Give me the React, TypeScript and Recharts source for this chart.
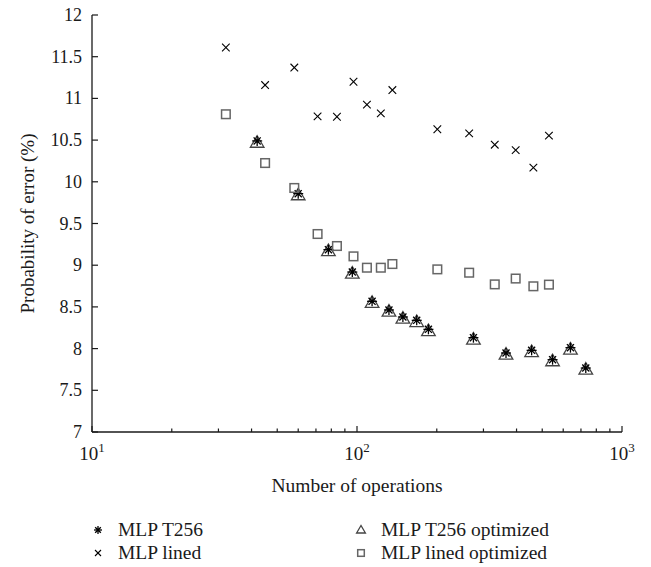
import { ScatterChart, Scatter, XAxis, YAxis } from 'recharts';

// (x = number of operations, y = probability of error %)
const t256Ops = [42, 60, 78, 96, 114, 132, 149, 168, 186, 275, 365, 456, 547, 639, 730];
const t256Err = [10.49, 9.858, 9.186, 8.918, 8.567, 8.463, 8.379, 8.339, 8.231, 8.131, 7.947, 7.979, 7.867, 8.011, 7.767];
const t256OptErr = [10.47, 9.84, 9.17, 8.9, 8.55, 8.445, 8.36, 8.32, 8.21, 8.11, 7.93, 7.96, 7.85, 7.99, 7.75];

const linedOps = [32, 45, 58, 71, 84, 97, 109, 123, 136, 201, 265, 331, 397, 463, 530];
const linedErr = [11.61, 11.16, 11.37, 10.785, 10.78, 11.2, 10.925, 10.82, 11.1, 10.63, 10.58, 10.445, 10.38, 10.17, 10.553];
const linedOptErr = [10.81, 10.225, 9.926, 9.374, 9.23, 9.106, 8.97, 8.97, 9.014, 8.95, 8.91, 8.77, 8.84, 8.747, 8.767];

const xTicks = [10, 20, 30, 40, 50, 60, 70, 80, 90, 100, 200, 300, 400, 500, 600, 700, 800, 900, 1000];
const yTicks = [7, 7.5, 8, 8.5, 9, 9.5, 10, 10.5, 11, 11.5, 12];

const FONT = '"Liberation Serif", "Times New Roman", serif';
const INK = '#1a1a1a';

const toPoints = (xs: number[], ys: number[]) => xs.map((x, i) => ({ x, y: ys[i] }));

const isMajor = (v: number) => {
  const e = Math.log10(v);
  return Math.abs(e - Math.round(e)) < 1e-6;
};

function BottomTick({ x, y, payload }: any) {
  const major = isMajor(payload.value);
  return (
    <g>
      <line x1={x} x2={x} y1={y} y2={y - (major ? 6 : 3.5)} stroke={INK} strokeWidth={1.2} />
      {major && (
        <text x={x} y={y + 28} textAnchor="middle" fontFamily={FONT} fontSize={19} fill={INK}>
          <tspan>10</tspan>
          <tspan dy={-8} fontSize={13}>{Math.round(Math.log10(payload.value))}</tspan>
        </text>
      )}
    </g>
  );
}

function TopTick({ x, y, payload }: any) {
  const major = isMajor(payload.value);
  return <line x1={x} x2={x} y1={y} y2={y + (major ? 6 : 3.5)} stroke={INK} strokeWidth={1.2} />;
}

function LeftTick({ x, y, payload }: any) {
  return (
    <g>
      <line x1={x} x2={x + 6} y1={y} y2={y} stroke={INK} strokeWidth={1.2} />
      <text x={x - 10} y={y + 6} textAnchor="end" fontFamily={FONT} fontSize={18} fill={INK}>
        {payload.value}
      </text>
    </g>
  );
}

function RightTick({ x, y }: any) {
  return <line x1={x} x2={x - 6} y1={y} y2={y} stroke={INK} strokeWidth={1.2} />;
}

function Asterisk({ cx, cy, r = 5 }: any) {
  const d = r * 0.7071;
  return (
    <g stroke="#000" strokeWidth={1.3}>
      <line x1={cx - r} x2={cx + r} y1={cy} y2={cy} />
      <line x1={cx} x2={cx} y1={cy - r} y2={cy + r} />
      <line x1={cx - d} x2={cx + d} y1={cy - d} y2={cy + d} />
      <line x1={cx - d} x2={cx + d} y1={cy + d} y2={cy - d} />
      <circle cx={cx} cy={cy} r={r * 0.36} fill="#000" stroke="none" />
    </g>
  );
}

function Triangle({ cx, cy, r = 6.8 }: any) {
  const h = r * 1.7;
  return (
    <polygon
      points={`${cx},${cy - h * 0.6} ${cx - r},${cy + h * 0.4} ${cx + r},${cy + h * 0.4}`}
      fill="none"
      stroke="#444"
      strokeWidth={1.3}
    />
  );
}

function Cross({ cx, cy, r = 3.8 }: any) {
  return (
    <g stroke="#000" strokeWidth={1.1}>
      <line x1={cx - r} x2={cx + r} y1={cy - r} y2={cy + r} />
      <line x1={cx - r} x2={cx + r} y1={cy + r} y2={cy - r} />
    </g>
  );
}

function Square({ cx, cy, r = 4.3 }: any) {
  return (
    <rect x={cx - r} y={cy - r} width={r * 2} height={r * 2} fill="none" stroke="#666" strokeWidth={1.5} />
  );
}

function YTitle({ viewBox }: any) {
  const cx = viewBox.x + 27;
  const cy = viewBox.y + viewBox.height / 2;
  return (
    <text x={cx} y={cy} transform={`rotate(-90 ${cx} ${cy})`} textAnchor="middle" dominantBaseline="central"
      fontFamily={FONT} fontSize={19} fill={INK}>
      Probability of error (%)
    </text>
  );
}

function XTitle({ viewBox }: any) {
  return (
    <text x={viewBox.x + viewBox.width / 2} y={viewBox.y + 60} textAnchor="middle"
      fontFamily={FONT} fontSize={19.5} fill={INK}>
      Number of operations
    </text>
  );
}

const legendItems = [
  { label: 'MLP T256', Mark: Asterisk, r: 4, left: 98, top: 530 },
  { label: 'MLP lined', Mark: Cross, r: 3, left: 98, top: 553 },
  { label: 'MLP T256 optimized', Mark: Triangle, r: 4.4, left: 361, top: 530 },
  { label: 'MLP lined optimized', Mark: Square, r: 3.3, left: 361, top: 553 },
];

export default function App() {
  return (
    <div style={{ position: 'absolute', left: 0, top: 0, width: 651, height: 567, background: '#fff' }}>
      <ScatterChart width={651} height={567} margin={{ top: 15, right: 29, bottom: 85, left: 0 }}>
        <XAxis xAxisId="b" dataKey="x" type="number" scale="log" domain={[10, 1000]} allowDataOverflow
          ticks={xTicks} interval={0} tickSize={0} tickMargin={0} tickLine={false} height={50}
          axisLine={{ stroke: INK, strokeWidth: 1.3 }} tick={<BottomTick />} label={{ content: XTitle } as any} />
        <XAxis xAxisId="t" orientation="top" dataKey="x" type="number" scale="log" domain={[10, 1000]}
          allowDataOverflow ticks={xTicks} interval={0} tickSize={0} tickMargin={0} tickLine={false}
          height={0} axisLine={{ stroke: INK, strokeWidth: 1.3 }} tick={<TopTick />} />
        <YAxis yAxisId="l" dataKey="y" type="number" domain={[7, 12]} allowDataOverflow ticks={yTicks}
          interval={0} tickSize={0} tickMargin={0} tickLine={false} width={92}
          axisLine={{ stroke: INK, strokeWidth: 1.3 }} tick={<LeftTick />} label={{ content: YTitle } as any} />
        <YAxis yAxisId="r" orientation="right" dataKey="y" type="number" domain={[7, 12]} allowDataOverflow
          ticks={yTicks} interval={0} tickSize={0} tickMargin={0} tickLine={false} width={0}
          axisLine={{ stroke: INK, strokeWidth: 1.3 }} tick={<RightTick />} />
        <Scatter xAxisId="b" yAxisId="l" data={toPoints(t256Ops, t256OptErr)} shape={(p: any) => <Triangle cx={p.cx} cy={p.cy} />} isAnimationActive={false} />
        <Scatter xAxisId="b" yAxisId="l" data={toPoints(t256Ops, t256Err)} shape={(p: any) => <Asterisk cx={p.cx} cy={p.cy} />} isAnimationActive={false} />
        <Scatter xAxisId="b" yAxisId="l" data={toPoints(linedOps, linedOptErr)} shape={(p: any) => <Square cx={p.cx} cy={p.cy} />} isAnimationActive={false} />
        <Scatter xAxisId="b" yAxisId="l" data={toPoints(linedOps, linedErr)} shape={(p: any) => <Cross cx={p.cx} cy={p.cy} />} isAnimationActive={false} />
      </ScatterChart>
      {legendItems.map(({ label, Mark, r, left, top }) => (
        <div key={label} style={{ position: 'absolute', left: left - 8, top: top - 11, height: 22, display: 'flex', alignItems: 'center' }}>
          <svg width={16} height={16} style={{ flex: 'none' }}>
            <Mark cx={8} cy={8} r={r} />
          </svg>
          <span style={{ marginLeft: 12, fontFamily: FONT, fontSize: 19.5, color: INK, lineHeight: '22px', whiteSpace: 'nowrap' }}>
            {label}
          </span>
        </div>
      ))}
    </div>
  );
}
